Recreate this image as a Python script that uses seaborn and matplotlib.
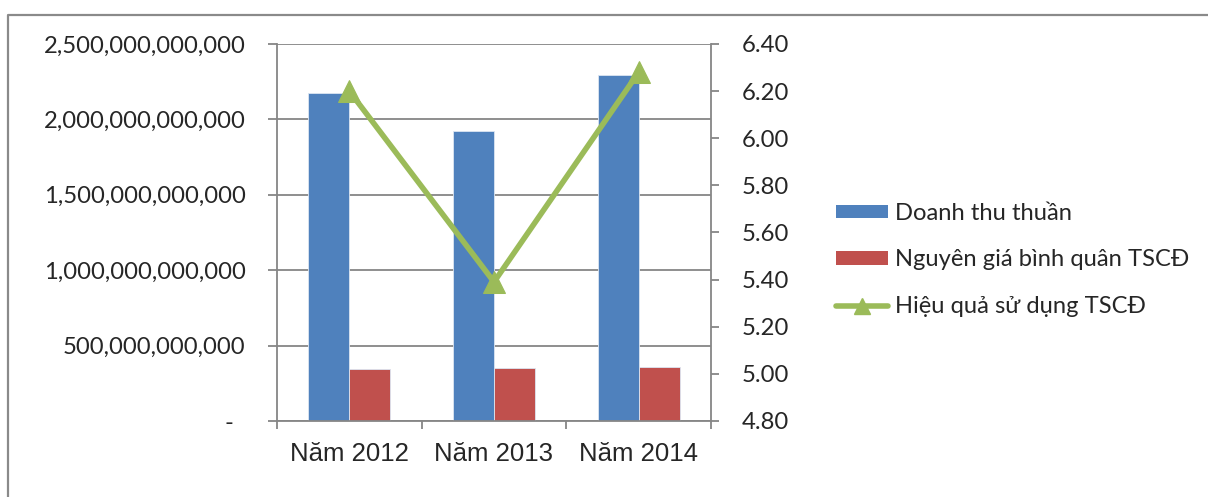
import numpy as np
import pandas as pd
import matplotlib
matplotlib.use("Agg")
import matplotlib.pyplot as plt
from matplotlib.lines import Line2D
from matplotlib.patches import Patch
from matplotlib.ticker import FuncFormatter, MultipleLocator
import seaborn as sns

# Data
years = ["Năm 2012", "Năm 2013", "Năm 2014"]
doanh_thu = [2.177e12, 1.925e12, 2.292e12]
nguyen_gia = [0.347e12, 0.353e12, 0.358e12]
hieu_qua = [6.20, 5.39, 6.28]
series_names = ["Doanh thu thuần", "Nguyên giá bình quân TSCĐ", "Hiệu quả sử dụng TSCĐ"]

BLUE = "#4F81BD"
RED = "#C0504D"
GREEN = "#9BBB59"
GRAY = "#868686"

sns.set_theme(style="white")
plt.rcParams["font.family"] = ["Lato", "DejaVu Sans"]

bars = pd.DataFrame({
    "year": years * 2,
    "value": doanh_thu + nguyen_gia,
    "series": [series_names[0]] * 3 + [series_names[1]] * 3,
})

fig = plt.figure(figsize=(12.08, 4.97), dpi=100)
ax = fig.add_axes([277 / 1208, 76 / 497, 434 / 1208, 377 / 497])

sns.barplot(data=bars, x="year", y="value", hue="series", order=years,
            hue_order=series_names[:2], palette=[BLUE, RED], width=0.567,
            saturation=1, ax=ax, legend=False, edgecolor="#DCE6F2", linewidth=0.6)

ax.set_ylim(0, 2.5e12)
ax.set_xlim(-0.5, 2.5)
ax.yaxis.set_major_locator(MultipleLocator(0.5e12))
ax.yaxis.set_major_formatter(FuncFormatter(lambda v, p: "-  " if v == 0 else f"{v:,.0f}"))
ax.grid(axis="y", color=GRAY, linewidth=1.3)
ax.set_axisbelow(True)
ax.set_xlabel("")
ax.set_ylabel("")
for side in ["left", "bottom", "right"]:
    ax.spines[side].set_visible(True)
    ax.spines[side].set_color(GRAY)
    ax.spines[side].set_linewidth(1.3)
ax.spines["top"].set_visible(False)
ax.tick_params(axis="y", direction="out", length=6.5, width=1.3, color=GRAY,
               pad=16, labelsize=17.2, left=True)
ax.tick_params(axis="x", direction="out", length=6, width=1.3, color=GRAY,
               pad=15, labelsize=18.5, bottom=True)
ax.set_xticks([-0.5, 0.5, 1.5, 2.5], minor=True)
ax.tick_params(axis="x", which="minor", direction="out", length=6, width=1.3,
               color=GRAY, bottom=True)
ax.tick_params(axis="x", which="major", length=0)
for lbl in ax.get_xticklabels():
    lbl.set_fontfamily(["Liberation Sans", "DejaVu Sans"])

# Secondary axis for efficiency ratio
ax2 = ax.twinx()
sns.lineplot(x=np.arange(len(years)), y=hieu_qua, ax=ax2, color=GREEN,
             linewidth=4, marker="^", markersize=16, markeredgecolor=GREEN,
             markerfacecolor=GREEN)
ax2.set_ylim(4.8, 6.4)
ax2.set_xlim(-0.5, 2.5)
ax2.yaxis.set_major_locator(MultipleLocator(0.2))
ax2.yaxis.set_major_formatter(FuncFormatter(lambda v, p: f"{v:.2f}"))
ax2.grid(False)
for side in ["left", "bottom", "top", "right"]:
    ax2.spines[side].set_visible(False)
ax2.tick_params(axis="y", direction="out", length=6, width=1.3, color=GRAY,
                pad=16, labelsize=17.2, right=True)

# Legend
handles = [
    Patch(facecolor=BLUE, edgecolor="none"),
    Patch(facecolor=RED, edgecolor="none"),
    Line2D([0], [0], color=GREEN, linewidth=4, marker="^", markersize=12),
]
fig.legend(handles, series_names, loc="center left",
           bbox_to_anchor=(836 / 1208, 237 / 497), frameon=False,
           fontsize=17.1, handlelength=2.2, handleheight=0.5,
           handletextpad=0.3, labelspacing=1.08, borderpad=0,
           borderaxespad=0)

# Outer chart border (left and top edges)
x0 = 8 / 1208
y0 = 1 - 15 / 497
fig.add_artist(Line2D([x0, x0, 1.0], [0.0, y0, y0], transform=fig.transFigure,
                      color="#8A8A8A", linewidth=1.6))

fig.savefig("out.png", dpi=100)
